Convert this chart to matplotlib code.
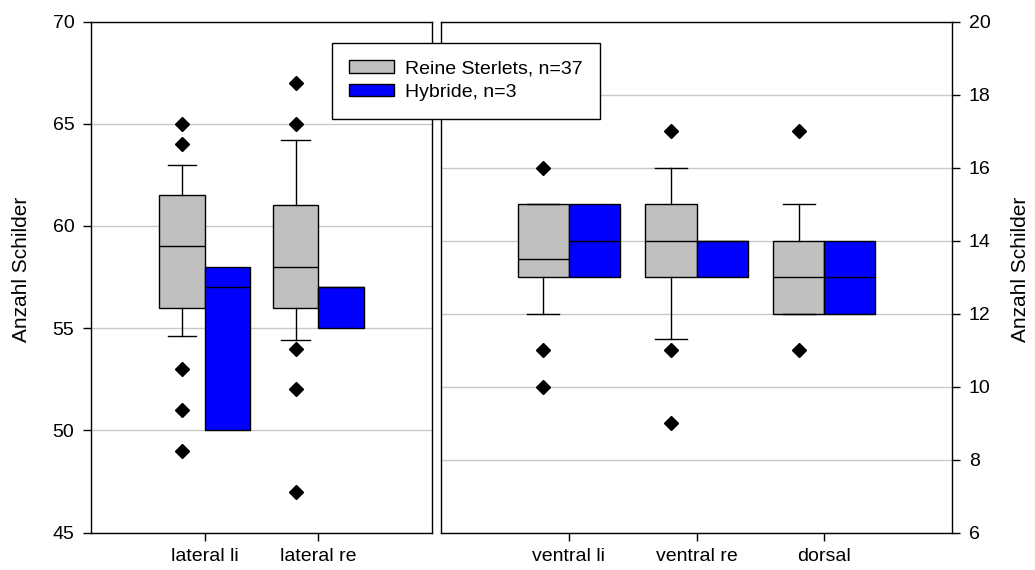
import matplotlib
matplotlib.use("Agg")
import matplotlib.pyplot as plt
from matplotlib.patches import Patch

plt.rcParams['font.family'] = ['Liberation Sans', 'DejaVu Sans']

# categories
cats_left = ['lateral li', 'lateral re']
cats_right = ['ventral li', 'ventral re', 'dorsal']

# Reine Sterlets: q1, median, q3, lower whisker, upper whisker, outliers
st_q1 = [56, 56, 13, 13, 12]
st_med = [59, 58, 13.5, 14, 13]
st_q3 = [61.5, 61, 15, 15, 14]
st_lo = [54.6, 54.4, 12, 11.3, 12]
st_hi = [63, 64.2, 15, 16, 15]
st_out = [[65, 64, 53, 51, 49],
          [67, 65, 54, 52, 47],
          [16, 11, 10],
          [17, 11, 9],
          [17, 11]]

# Hybride: q1, median, q3 (n=3, no whiskers)
hy_q1 = [50, 55, 13, 13, 12]
hy_med = [57, 57, 14, 14, 13]
hy_q3 = [58, 57, 15, 14, 14]

gray = '#c0c0c0'
blue = '#0000ff'
bw = 0.4


def stats(i, hybrid):
    if hybrid:
        return dict(q1=hy_q1[i], med=hy_med[i], q3=hy_q3[i],
                    whislo=hy_q1[i], whishi=hy_q3[i], fliers=[])
    return dict(q1=st_q1[i], med=st_med[i], q3=st_q3[i],
                whislo=st_lo[i], whishi=st_hi[i], fliers=st_out[i])


def draw_panel(ax, idx):
    n = len(idx)
    pos = list(range(1, n + 1))
    common = dict(widths=bw, patch_artist=True,
                  medianprops=dict(color='black', lw=1),
                  whiskerprops=dict(color='black', lw=1),
                  capprops=dict(color='black', lw=1),
                  flierprops=dict(marker='D', markerfacecolor='black',
                                  markeredgecolor='black', markersize=7.2,
                                  linestyle='none'),
                  manage_ticks=False, zorder=3)
    b1 = ax.bxp([stats(i, False) for i in idx], positions=[p - bw / 2 for p in pos],
                capwidths=0.25, **common)
    b2 = ax.bxp([stats(i, True) for i in idx], positions=[p + bw / 2 for p in pos],
                showcaps=False, **common)
    for b in b1['boxes']:
        b.set_facecolor(gray)
        b.set_edgecolor('black')
        b.set_linewidth(1)
    for b in b2['boxes']:
        b.set_facecolor(blue)
        b.set_edgecolor('black')
        b.set_linewidth(1)
    ax.set_xlim(0, n + 1)
    ax.set_xticks(pos)
    ax.yaxis.grid(True, color='#c8c8c8', lw=1, zorder=0)
    ax.set_axisbelow(True)
    for s in ax.spines.values():
        s.set_linewidth(1)
    ax.tick_params(labelsize=14, length=6, width=1, direction='out', pad=6)
    ax.tick_params(axis='x', pad=5)


fig = plt.figure(figsize=(10.35, 5.7), dpi=100)
ax1 = fig.add_axes([91 / 1035, 1 - 532.5 / 570, 341 / 1035, 511 / 570])
ax2 = fig.add_axes([441 / 1035, 1 - 532.5 / 570, 511 / 1035, 511 / 570])

draw_panel(ax1, [0, 1])
ax1.set_xticklabels(cats_left)
ax1.set_ylim(45, 70)
ax1.set_yticks([45, 50, 55, 60, 65, 70])
ax1.set_ylabel('Anzahl Schilder', fontsize=15)
ax1.yaxis.set_label_coords(-0.177, 0.514)

draw_panel(ax2, [2, 3, 4])
ax2.set_xticklabels(cats_right)
ax2.set_ylim(6, 20)
ax2.set_yticks([6, 8, 10, 12, 14, 16, 18, 20])
ax2.yaxis.tick_right()
ax2.yaxis.set_label_position('right')
ax2.set_ylabel('Anzahl Schilder', fontsize=15)
ax2.yaxis.set_label_coords(1.115, 0.514)

handles = [Patch(facecolor=gray, edgecolor='black', lw=1),
           Patch(facecolor=blue, edgecolor='black', lw=1)]
leg = fig.legend(handles, ['Reine Sterlets, n=37', 'Hybride, n=3'],
                 loc='upper left', bbox_to_anchor=(331.7 / 1035, 1 - 42.7 / 570),
                 fontsize=14, frameon=True, fancybox=False, edgecolor='black',
                 framealpha=1, borderpad=0.9, handlelength=2.3, handleheight=0.6,
                 handletextpad=0.55, labelspacing=0.35, borderaxespad=0)
leg.get_frame().set_linewidth(1)

fig.savefig('out.png', dpi=100)
